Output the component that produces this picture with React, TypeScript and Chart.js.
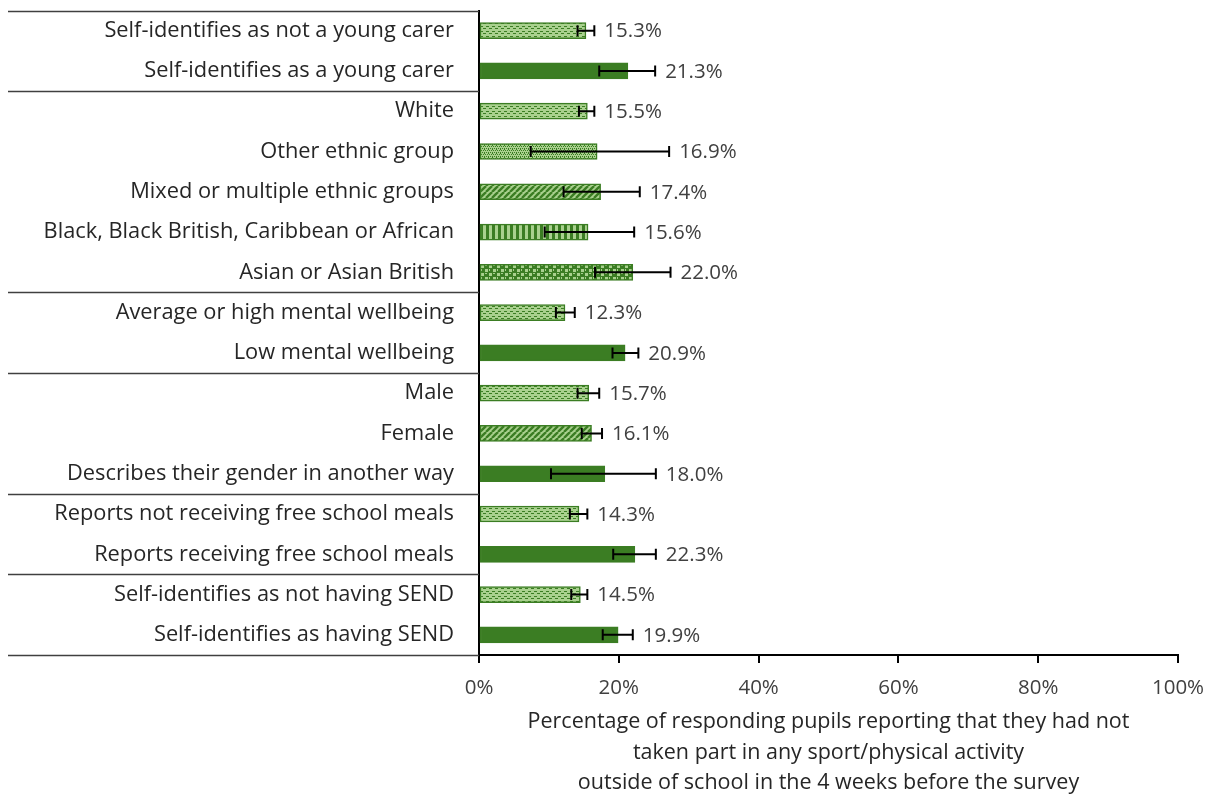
import React, { useEffect, useRef } from "react";
import { Chart, registerables } from "chart.js";

Chart.register(...registerables);

// Row labels, top to bottom
const categories = [
  "Self-identifies as not a young carer",
  "Self-identifies as a young carer",
  "White",
  "Other ethnic group",
  "Mixed or multiple ethnic groups",
  "Black, Black British, Caribbean or African",
  "Asian or Asian British",
  "Average or high mental wellbeing",
  "Low mental wellbeing",
  "Male",
  "Female",
  "Describes their gender in another way",
  "Reports not receiving free school meals",
  "Reports receiving free school meals",
  "Self-identifies as not having SEND",
  "Self-identifies as having SEND",
];

// Percentage not taking part in sport/physical activity
const values = [15.3, 21.3, 15.5, 16.9, 17.4, 15.6, 22.0, 12.3, 20.9, 15.7, 16.1, 18.0, 14.3, 22.3, 14.5, 19.9];

// Confidence interval bounds
const ciLow = [14.1, 17.2, 14.3, 7.4, 12.1, 9.4, 16.6, 11.0, 19.1, 14.1, 14.7, 10.3, 13.0, 19.2, 13.2, 17.7];
const ciHigh = [16.5, 25.2, 16.5, 27.2, 23.0, 22.2, 27.4, 13.7, 22.8, 17.2, 17.6, 25.3, 15.5, 25.3, 15.5, 22.0];

// Fill pattern for each row
const fillKinds = [
  "dash", "solid", "dash", "dots", "diag", "vert", "weave", "dash",
  "solid", "dash", "diag", "solid", "dash", "solid", "dash", "solid",
];

// A separator line is drawn after each of these row counts
const groupBreaks = [2, 7, 9, 12, 14];

const axisTitle = [
  "Percentage of responding pupils reporting that they had not",
  "taken part in any sport/physical activity",
  "outside of school in the 4 weeks before the survey",
];

const LIGHT = "#A9D18E";
const DARK = "#3B7D23";
const FONT = "'Open Sans', sans-serif";

function makePattern(kind: string): CanvasPattern | string {
  if (kind === "solid") return DARK;
  const tile = document.createElement("canvas");
  const t = tile.getContext("2d")!;
  const size = (w: number, h: number) => {
    tile.width = w;
    tile.height = h;
    t.fillStyle = LIGHT;
    t.fillRect(0, 0, w, h);
    t.fillStyle = DARK;
    t.strokeStyle = DARK;
  };
  if (kind === "dash") {
    size(6, 5);
    t.fillRect(0, 1, 3, 1);
    t.fillRect(3, 3, 3, 1);
  } else if (kind === "dots") {
    size(4, 4);
    t.fillRect(0, 0, 1, 1);
    t.fillRect(2, 0, 1, 1);
    t.fillRect(1, 2, 1, 1);
    t.fillRect(3, 2, 1, 1);
    t.fillRect(0, 1, 1, 1);
  } else if (kind === "diag") {
    size(6, 6);
    t.lineWidth = 2.4;
    for (const o of [-6, 0, 6]) {
      t.beginPath();
      t.moveTo(o, 6);
      t.lineTo(o + 6, 0);
      t.stroke();
    }
  } else if (kind === "vert") {
    size(6, 2);
    t.fillRect(0, 0, 3, 2);
  } else if (kind === "weave") {
    size(8, 8);
    t.fillRect(0, 0, 8, 8);
    t.fillStyle = LIGHT;
    t.fillRect(1, 1, 3, 3);
    t.fillRect(5, 5, 3, 3);
    t.fillRect(5, 1, 2, 1);
    t.fillRect(1, 5, 1, 2);
  }
  const ctx = document.createElement("canvas").getContext("2d")!;
  return ctx.createPattern(tile, "repeat")!;
}

// Horizontal rules that box each group of row labels
const groupLinesPlugin = {
  id: "groupLines",
  afterDraw(chart: any) {
    const { ctx, chartArea, scales } = chart;
    const y = scales.y;
    const ys: number[] = [chartArea.top, chartArea.bottom];
    for (const b of groupBreaks) {
      ys.push((y.getPixelForValue(b - 1) + y.getPixelForValue(b)) / 2);
    }
    ctx.save();
    ctx.strokeStyle = "#404040";
    ctx.lineWidth = 1.3;
    for (const yy of ys) {
      ctx.beginPath();
      ctx.moveTo(8, Math.round(yy) + 0.5);
      ctx.lineTo(chartArea.left, Math.round(yy) + 0.5);
      ctx.stroke();
    }
    ctx.restore();
  },
};

// Confidence-interval whiskers, value labels and the x-axis caption
const errorBarsPlugin = {
  id: "errorBars",
  afterDatasetsDraw(chart: any) {
    const { ctx, scales, chartArea } = chart;
    const x = scales.x;
    const y = scales.y;
    ctx.save();
    ctx.strokeStyle = "#000000";
    ctx.lineWidth = 2;
    ctx.font = `20.5px ${FONT}`;
    ctx.fillStyle = "#404040";
    ctx.textAlign = "left";
    ctx.textBaseline = "middle";
    categories.forEach((_, i) => {
      const cy = y.getPixelForValue(i);
      const x0 = x.getPixelForValue(ciLow[i]);
      const x1 = x.getPixelForValue(ciHigh[i]);
      ctx.beginPath();
      ctx.moveTo(x0, cy);
      ctx.lineTo(x1, cy);
      ctx.moveTo(x0, cy - 5.5);
      ctx.lineTo(x0, cy + 5.5);
      ctx.moveTo(x1, cy - 5.5);
      ctx.lineTo(x1, cy + 5.5);
      ctx.stroke();
      ctx.fillText(values[i].toFixed(1) + "%", x1 + 10, cy + 1);
    });

    ctx.font = `21.5px ${FONT}`;
    ctx.fillStyle = "#262626";
    ctx.textAlign = "center";
    const cx = (chartArea.left + chartArea.right) / 2;
    axisTitle.forEach((line, k) => {
      ctx.fillText(line, cx, chartArea.bottom + 67 + k * 30.5);
    });
    ctx.restore();
  },
};

export default function App() {
  const canvasRef = useRef<HTMLCanvasElement | null>(null);

  useEffect(() => {
    const canvas = canvasRef.current;
    if (!canvas) return;
    const chart = new Chart(canvas, {
      type: "bar",
      data: {
        labels: categories,
        datasets: [
          {
            data: values,
            backgroundColor: fillKinds.map(makePattern) as any,
            borderColor: DARK,
            borderWidth: 1.5,
            borderSkipped: false,
            barThickness: 16,
          },
        ],
      },
      options: {
        indexAxis: "y",
        responsive: false,
        animation: false,
        layout: { padding: { left: 0, right: 37, top: 10.5, bottom: 0 } },
        plugins: {
          legend: { display: false },
          tooltip: { enabled: false },
        },
        scales: {
          x: {
            min: 0,
            max: 100,
            afterFit: (s: any) => {
              s.height = 140;
              s.paddingLeft = 0;
              s.paddingRight = 0;
            },
            ticks: {
              stepSize: 20,
              padding: 13,
              color: "#404040",
              font: { family: FONT, size: 20.5 },
              callback: (v: any) => `${v}%`,
              maxRotation: 0,
            },
            grid: {
              display: true,
              drawOnChartArea: false,
              drawTicks: true,
              tickLength: 8,
              color: "#000000",
              lineWidth: 2,
            },
            border: { display: true, color: "#000000", width: 2 },
          },
          y: {
            afterFit: (s: any) => {
              s.width = 479;
              s.paddingTop = 0;
              s.paddingBottom = 0;
            },
            ticks: {
              padding: 25,
              color: "#262626",
              font: { family: FONT, size: 21.8 },
              autoSkip: false,
            },
            grid: { display: false, drawTicks: false },
            border: { display: true, color: "#000000", width: 2 },
          },
        },
      },
      plugins: [groupLinesPlugin, errorBarsPlugin],
    });
    return () => chart.destroy();
  }, []);

  return (
    <div style={{ position: "fixed", left: 0, top: 0, width: 1215, height: 795, background: "#ffffff" }}>
      <canvas ref={canvasRef} width={1215} height={795} style={{ display: "block" }} />
    </div>
  );
}
